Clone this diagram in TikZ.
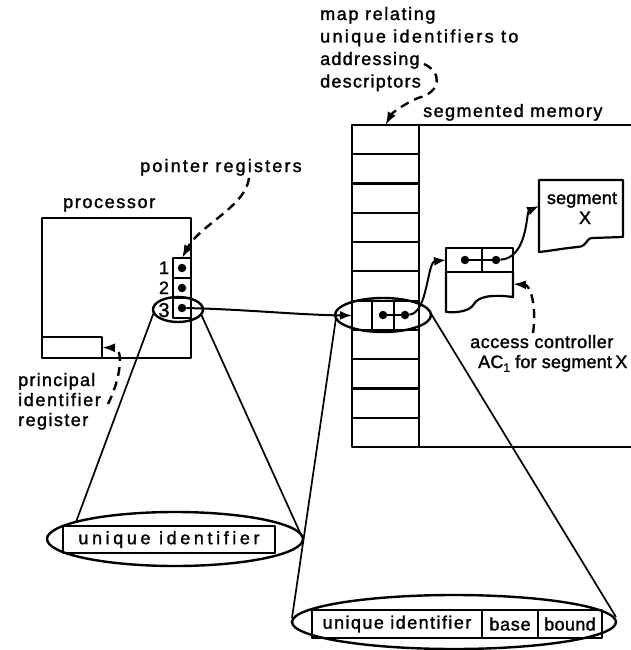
\documentclass[tikz,border=0pt]{standalone}
\usepackage{fontspec}
\setmainfont{Liberation Sans}[FakeBold=1.5]
\usetikzlibrary{arrows.meta,shapes.geometric}
\begin{document}
\begin{tikzpicture}[x=1pt,y=-1pt,line join=round,
  lbl/.style={font=\fontsize{18}{20}\selectfont\addfontfeatures{LetterSpace=#1},inner sep=0pt},
  lbl/.default=8,
  box/.style={draw,line width=2.2pt,inner sep=0pt,outer sep=0pt},
  ell/.style={draw,ellipse,line width=2.4pt,inner sep=0pt,outer sep=0pt},
  dotn/.style={circle,fill,inner sep=0pt,minimum size=8.5pt},
  wire/.style={line width=2.2pt},
  ptr/.style={line width=2pt,-{Latex[length=12pt,width=9pt]}},
  dsh/.style={line width=2.4pt,dash pattern=on 9pt off 6pt,-{Latex[length=13pt,width=9pt]}},
  cone/.style={line width=1.7pt}]
\useasboundingbox (0,0) rectangle (631,650);

% ---------- processor ----------
\node[box,minimum width=149pt,minimum height=140pt] (proc) at (116.5,288) {};
\node[box,minimum width=60pt,minimum height=21pt] (pir) at (72,347.5) {};
\node[box,minimum width=18pt,minimum height=20pt] (r1) at (182,268) {};
\node[box,minimum width=18pt,minimum height=20pt] (r2) at (182,288) {};
\node[box,minimum width=18pt,minimum height=20pt] (r3) at (182,308) {};
\node[dotn] (d1) at (r1) {};
\node[dotn] (d2) at (r2) {};
\node[dotn] (d3) at (r3) {};
\node[lbl=0,anchor=base] (n1) at (164,274) {1};
\node[lbl=0,anchor=base] (n2) at (164,294) {2};
\node[lbl=0,anchor=base,font=\fontsize{20}{20}\selectfont] (n3) at (164,317) {3};
\node[ell,minimum width=50pt,minimum height=25pt] (e1) at (178,309.5) {};

\node[lbl=9,anchor=base west] (lproc) at (63,208) {processor};
\node[lbl=12,anchor=base west] (lptr) at (140,172) {pointer registers};
\node[lbl=7,anchor=base west] (lpi1) at (18,386) {principal};
\node[lbl=9,anchor=base west] (lpi2) at (18,406) {identifier};
\node[lbl=8,anchor=base west] (lpi3) at (18,426) {register};

% ---------- map and memory ----------
\node[box,minimum width=67pt,minimum height=322pt] (map) at (385.5,286) {};
\foreach \i in {1,...,10}
  \draw[wire] (352,{125+29.27*\i}) -- (419,{125+29.27*\i});
\draw[wire] (372,300.6) -- (372,329.9) (394,300.6) -- (394,329.9);
\draw[wire] (map.north east) -- (631,125) (map.south east) -- (631,447);
\node[dotn] (m1) at (383,315) {};
\node[dotn] (m2) at (405,315) {};
\draw[wire] (m1) -- (m2);
\node[ell,minimum width=96pt,minimum height=34pt] (e2) at (383,315) {};
\coordinate (row7w) at (352,315.5);

\node[lbl=9,anchor=base west] (lm1) at (320,20) {map relating};
\node[lbl=13,anchor=base west] (lm2) at (320,42.5) {unique identifiers to};
\node[lbl=7,anchor=base west] (lm3) at (320,65) {addressing};
\node[lbl=7,anchor=base west] (lm4) at (320,87.5) {descriptors};
\node[lbl=8,anchor=base west] (lmem) at (423,117) {segmented memory};

% ---------- access controller ----------
\node[box,minimum width=67pt,minimum height=24pt] (actop) at (479.5,260) {};
\draw[wire] (482,248) -- (482,272);
\draw[wire] (actop.south west) -- (446,312) .. controls (458,313) and (470,311) .. (474,304)
  .. controls (478,297) and (490,294) .. (513,297) -- (actop.south east);
\node[dotn] (a1) at (465,260) {};
\node[dotn] (a2) at (496,260) {};
\draw[wire] (a1) -- (a2);
\coordinate (acR) at (513,284);
\node[lbl=3,anchor=base west] (lac1) at (470,348) {access controller};
\node[lbl=1,anchor=base west] (lac2) at (478,368) {AC\raisebox{-0.4ex}{\fontsize{12}{12}\selectfont 1} for segment\hspace{3.5pt}X};

% ---------- segment X ----------
\draw[wire] (539,180) -- (623,180) -- (623,237) -- (592,238)
  .. controls (585,239) and (588,246) .. (578,247)
  .. controls (565,248) and (550,251) .. (539,252) -- cycle;
\node[lbl=1,anchor=base] (lseg) at (582,204) {segment};
\node[lbl=0,anchor=base] (lsegx) at (585,224) {X};
\coordinate (segL) at (539,206);

% ---------- pointers ----------
\draw[ptr] (d3) .. controls (240,309) and (300,315) .. (row7w);
\draw[ptr] (m2) .. controls (428,313) and (427,262) .. (actop.west);
\draw[ptr] (a2) .. controls (528,258) and (526,212) .. (segL);

% ---------- dashed callouts ----------
\coordinate (pstart) at (249,178);
\draw[dsh] (pstart) .. controls (246,206) and (200,225) .. (r1.north);
\coordinate (pistart) at (108,404);
\draw[dsh] (pistart) .. controls (121,378) and (124,348) .. (pir.east);
\coordinate (mstart) at (424,64);
\draw[dsh] (mstart) .. controls (442,72) and (442,92) .. (418,98)
  .. controls (404,104) and (392,113) .. (map.north);
\coordinate (astart) at (533,333);
\draw[dsh] (astart) .. controls (537,305) and (530,285) .. (acR);

% ---------- zoom cones ----------
\coordinate (c1a) at (154,312); \coordinate (c1b) at (76,522);
\coordinate (c2a) at (201,314); \coordinate (c2b) at (302,537);
\coordinate (c3a) at (336,318); \coordinate (c3b) at (292,618);
\coordinate (c4a) at (430,312); \coordinate (c4b) at (616,617);
\draw[cone] (c1a) -- (c1b) (c2a) -- (c2b) (c3a) -- (c3b) (c4a) -- (c4b);

% ---------- enlarged descriptors ----------
\node[ell,minimum width=256pt,minimum height=54pt] (E3) at (175,539) {};
\node[box,lbl=20,minimum width=212pt,minimum height=27pt] (uid1) at (169,539.5) {unique identifier};

\node[ell,minimum width=324pt,minimum height=54pt] (E4) at (454,622) {};
\node[box,lbl=8,minimum width=170pt,minimum height=28pt] (uid2) at (397,624) {unique identifier};
\node[box,lbl=4,minimum width=56pt,minimum height=28pt,anchor=west] (base) at (uid2.east) {base};
\node[box,lbl=2,minimum width=64pt,minimum height=28pt,anchor=west] (bound) at (base.east) {bound};
\end{tikzpicture}
\end{document}
